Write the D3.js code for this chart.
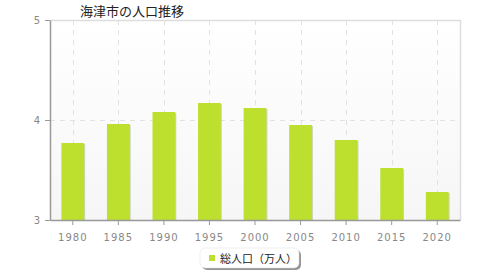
<!DOCTYPE html>
<html>
<head>
<meta charset="utf-8">
<script src="https://cdn.jsdelivr.net/npm/d3@7"></script>
<style>
  body { margin:0; background:#fff; }
  svg { display:block; font-family:"DejaVu Sans", sans-serif; }
</style>
</head>
<body>
<svg width="480" height="280"></svg>
<script>
var years = ["1980","1985","1990","1995","2000","2005","2010","2015","2020"];
var pop = [3.77, 3.96, 4.08, 4.17, 4.12, 3.95, 3.80, 3.52, 3.28];
var yTicks = [3, 4, 5];
var title = "海津市の人口推移";
var seriesName = "総人口（万人）";

var svg = d3.select("svg");
var m = {l:50, t:20, r:20, b:60}; // plot box 50..460, 20..220
var w = 480 - m.l - m.r, h = 280 - m.t - m.b;

var defs = svg.append("defs");
var gr = defs.append("linearGradient").attr("id","bg").attr("x1",0).attr("y1",0).attr("x2",0).attr("y2",1);
gr.append("stop").attr("offset","0").attr("stop-color","#ffffff");
gr.append("stop").attr("offset","1").attr("stop-color","#f6f6f6");

var x = d3.scaleBand().domain(years).range([0,w]);
var y = d3.scaleLinear().domain([3,5]).range([h,0]);

var g = svg.append("g").attr("transform","translate("+m.l+","+m.t+")");

g.append("rect").attr("width",w).attr("height",h).attr("fill","url(#bg)");

// grid
g.selectAll(".vg").data(years).enter().append("line")
  .attr("x1",function(d){ return Math.round(x(d)+x.bandwidth()/2)+0.5;})
  .attr("x2",function(d){ return Math.round(x(d)+x.bandwidth()/2)+0.5;})
  .attr("y1",0).attr("y2",h)
  .attr("stroke","#e2e2e2").attr("stroke-dasharray","5,5");
g.selectAll(".hg").data(yTicks.slice(1,-1)).enter().append("line")
  .attr("x1",0).attr("x2",w)
  .attr("y1",function(d){ return Math.round(y(d))+0.5;})
  .attr("y2",function(d){ return Math.round(y(d))+0.5;})
  .attr("stroke","#e2e2e2").attr("stroke-dasharray","5,5");

// frame top/right
g.append("path").attr("d","M0,0.5H"+(w+0.5)+"V"+h).attr("fill","none").attr("stroke","#dddddd").attr("stroke-width",1.5);

// bars
var bw = x.bandwidth()*0.5;
g.selectAll(".sh").data(pop).enter().append("rect")
  .attr("x",function(d,i){ return x(years[i])+(x.bandwidth()-bw)/2+1;})
  .attr("y",function(d){ return y(d)+1;})
  .attr("width",bw).attr("height",function(d){ return h-y(d)-1;})
  .attr("fill","#9aa86a").attr("opacity",0.45);
g.selectAll(".bar").data(pop).enter().append("rect")
  .attr("x",function(d,i){ return x(years[i])+(x.bandwidth()-bw)/2;})
  .attr("y",function(d){ return y(d);})
  .attr("width",bw).attr("height",function(d){ return h-y(d);})
  .attr("fill","#bde02e");

// axes
var xa = g.append("g").attr("transform","translate(0,"+h+")")
  .call(d3.axisBottom(x).tickSize(5).tickSizeOuter(0));
var ya = g.append("g").call(d3.axisLeft(y).tickValues(yTicks).tickSize(5).tickSizeOuter(0).tickFormat(d3.format("d")));
[xa,ya].forEach(function(a){
  a.select(".domain").attr("stroke","#999").attr("stroke-width",1.5);
  a.selectAll(".tick line").attr("stroke","#999");
  a.selectAll("text").attr("fill","#888").attr("font-size","10px").attr("font-family","DejaVu Sans, sans-serif").style("letter-spacing","1px");
});
xa.selectAll("text").attr("dy","1.3em");
ya.selectAll("text").attr("x",-9);

// title
svg.append("text").attr("x",80).attr("y",16).attr("fill","#222")
  .attr("font-size","13px").attr("font-family","Noto Sans CJK JP, sans-serif").text(title);

// legend
var lg = svg.append("g").attr("transform","translate(200,248)");
lg.append("rect").attr("x",2).attr("y",2).attr("width",99).attr("height",20).attr("rx",5).attr("fill","#666").attr("opacity",0.7);
lg.append("rect").attr("x",0).attr("y",0).attr("width",99).attr("height",20).attr("rx",5).attr("fill","#fff").attr("stroke","#ddd").attr("stroke-width",0.5);
lg.append("rect").attr("x",9).attr("y",7).attr("width",6).attr("height",6).attr("fill","#bde02e");
lg.append("text").attr("x",20).attr("y",14.5).attr("fill","#222").attr("font-size","11px")
  .attr("font-family","Noto Sans CJK JP, sans-serif").text(seriesName);
</script>
</body>
</html>
